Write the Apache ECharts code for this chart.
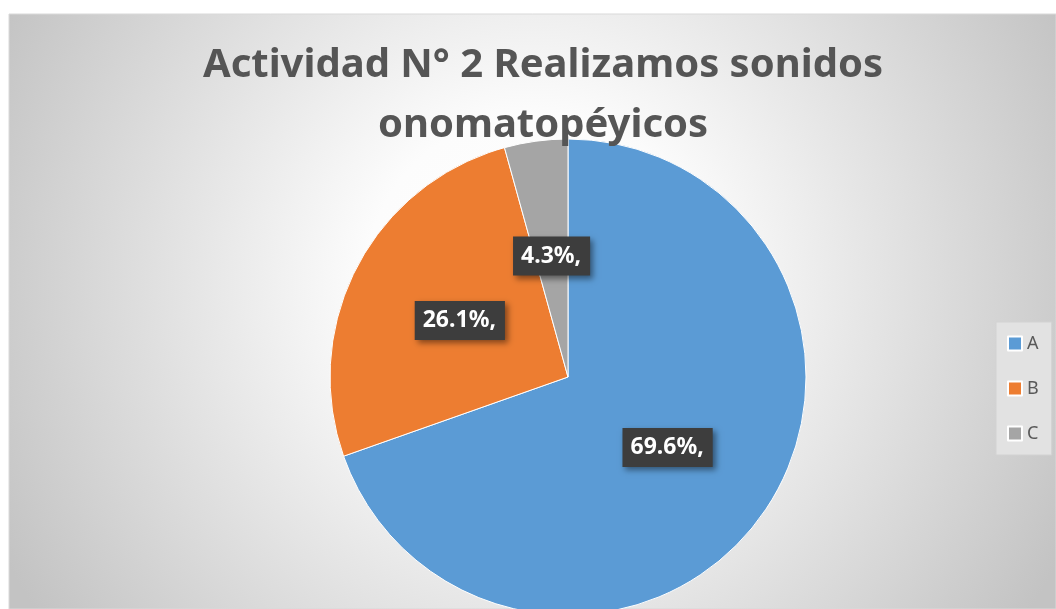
<!DOCTYPE html>
<html>
<head>
<meta charset="utf-8">
<script src="https://cdn.jsdelivr.net/npm/echarts@6/dist/echarts.min.js"></script>
<style>
  html, body { margin: 0; padding: 0; background: #fff; }
  #chart { width: 1056px; height: 609px; }
</style>
</head>
<body>
<div id="chart"></div>
<script>
// data
const categories = ['A', 'B', 'C']
const shares = [69.6, 26.1, 4.3]
const sliceColors = ['#5b9bd5', '#ed7d31', '#a5a5a5']
const titleText = 'Actividad N° 2 Realizamos sonidos\nonomatopéyicos'

const chart = echarts.init(document.getElementById('chart'))

chart.setOption({
  animation: false,
  graphic: [{
    type: 'rect',
    z: -10,
    silent: true,
    shape: { x: 9, y: 14, width: 1047, height: 595 },
    style: {
      fill: new echarts.graphic.RadialGradient(0.5, 0.45, 1.0, [
        { offset: 0, color: '#ffffff' },
        { offset: 0.28, color: '#fcfcfc' },
        { offset: 1, color: '#c3c3c3' }
      ]),
      stroke: '#d9d9d9',
      lineWidth: 1
    }
  }],
  title: {
    text: titleText,
    left: 538,
    top: 31,
    textAlign: 'center',
    textStyle: {
      fontFamily: 'Noto Sans',
      fontWeight: 'bold',
      fontSize: 40,
      lineHeight: 60,
      color: '#555555'
    }
  },
  legend: {
    orient: 'vertical',
    left: 996,
    top: 322,
    data: categories,
    icon: 'rect',
    itemWidth: 14,
    itemHeight: 14,
    itemGap: 26,
    padding: [12, 13, 12, 11],
    backgroundColor: '#e2e2e2',
    borderColor: '#d2d2d2',
    borderWidth: 1,
    textStyle: { fontFamily: 'Noto Sans', fontSize: 18, lineHeight: 19, color: '#595959' }
  },
  series: [{
    type: 'pie',
    center: [568, 377],
    radius: 238,
    startAngle: 90,
    clockwise: true,
    avoidLabelOverlap: false,
    itemStyle: { borderColor: '#ffffff', borderWidth: 1 },
    label: {
      show: true,
      position: 'inside',
      formatter: p => p.value.toFixed(1) + '%,',
      color: '#ffffff',
      fontFamily: 'Noto Sans',
      fontWeight: 'bold',
      fontSize: 23,
      backgroundColor: '#3d3d3d',
      padding: [9, 9, 7, 8],
      shadowColor: 'rgba(0,0,0,0.45)',
      shadowBlur: 6,
      shadowOffsetX: 3,
      shadowOffsetY: 3
    },
    labelLine: { show: false },
    emphasis: { disabled: true },
    data: categories.map((name, i) => ({
      name,
      value: shares[i],
      itemStyle: { color: sliceColors[i] }
    }))
  }]
})
</script>
</body>
</html>
